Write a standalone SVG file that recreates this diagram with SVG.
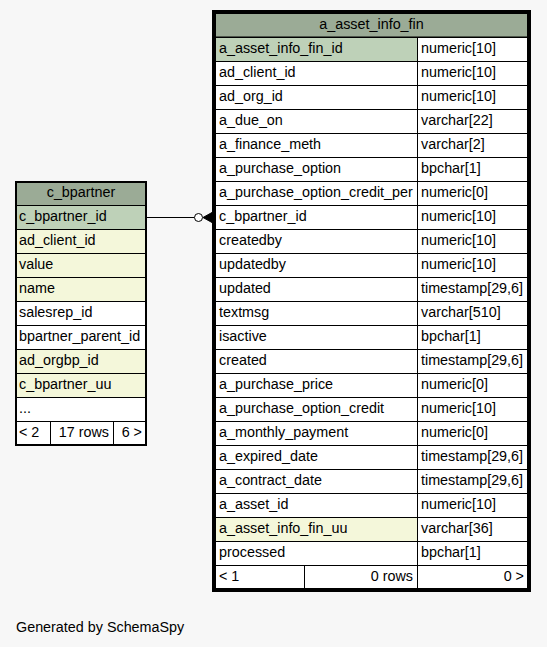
<svg xmlns="http://www.w3.org/2000/svg" width="547" height="647" viewBox="0 0 547 647">
<style>
text{font-family:"Liberation Sans",Arial,sans-serif;font-size:14.35px;fill:#000}
.c{text-anchor:middle}
.r{text-anchor:end}
.hd{fill:#9bab96;stroke:#000;stroke-width:1}
.pk{fill:#bed1b8;stroke:#000;stroke-width:1}
.ix{fill:#f4f7da;stroke:#000;stroke-width:1}
.w{fill:#fff;stroke:#000;stroke-width:1}
.ft{fill:#fff;stroke:#000;stroke-width:1}
.edge{fill:none;stroke:#000;stroke-width:1}
</style>
<rect x="0" y="0" width="547" height="647" fill="#f7f7f7"/>
<g id="c_bpartner">
<rect x="15.5" y="181.5" width="131" height="264" fill="#fff" stroke="#000"/>
<rect class="hd" x="16.5" y="182.5" width="129" height="23"/>
<text class="c" x="81" y="197">c_bpartner</text>
<rect class="pk" x="16.5" y="205.5" width="129" height="24"/><text x="19" y="221">c_bpartner_id</text>
<rect class="ix" x="16.5" y="229.5" width="129" height="24"/><text x="19" y="245">ad_client_id</text>
<rect class="ix" x="16.5" y="253.5" width="129" height="24"/><text x="19" y="269">value</text>
<rect class="ix" x="16.5" y="277.5" width="129" height="24"/><text x="19" y="293">name</text>
<rect class="w" x="16.5" y="301.5" width="129" height="24"/><text x="19" y="317">salesrep_id</text>
<rect class="w" x="16.5" y="325.5" width="129" height="24"/><text x="19" y="341">bpartner_parent_id</text>
<rect class="ix" x="16.5" y="349.5" width="129" height="24"/><text x="19" y="365">ad_orgbp_id</text>
<rect class="ix" x="16.5" y="373.5" width="129" height="24"/><text x="19" y="389">c_bpartner_uu</text>
<rect class="w" x="16.5" y="397.5" width="129" height="24"/><text x="19" y="413">...</text>
<rect class="ft" x="16.5" y="421.5" width="34" height="23"/><text x="19" y="437">&lt; 2</text>
<rect class="ft" x="50.5" y="421.5" width="63" height="23"/><text class="r" x="109" y="437">17 rows</text>
<rect class="ft" x="113.5" y="421.5" width="32" height="23"/><text class="r" x="142" y="437">6 &gt;</text>
</g>
<g id="a_asset_info_fin">
<rect x="213.5" y="11.5" width="316" height="579" fill="#fff" stroke="#000" stroke-width="3"/>
<rect class="hd" x="215.5" y="13.5" width="312" height="23.5"/>
<text class="c" x="371.5" y="29">a_asset_info_fin</text>
<rect class="pk" x="215.5" y="37.5" width="202" height="24"/><rect class="w" x="417.5" y="37.5" width="110" height="24"/>
<text x="219" y="53">a_asset_info_fin_id</text><text x="421" y="53">numeric[10]</text>
<rect class="w" x="215.5" y="61.5" width="202" height="24"/><rect class="w" x="417.5" y="61.5" width="110" height="24"/>
<text x="219" y="77">ad_client_id</text><text x="421" y="77">numeric[10]</text>
<rect class="w" x="215.5" y="85.5" width="202" height="24"/><rect class="w" x="417.5" y="85.5" width="110" height="24"/>
<text x="219" y="101">ad_org_id</text><text x="421" y="101">numeric[10]</text>
<rect class="w" x="215.5" y="109.5" width="202" height="24"/><rect class="w" x="417.5" y="109.5" width="110" height="24"/>
<text x="219" y="125">a_due_on</text><text x="421" y="125">varchar[22]</text>
<rect class="w" x="215.5" y="133.5" width="202" height="24"/><rect class="w" x="417.5" y="133.5" width="110" height="24"/>
<text x="219" y="149">a_finance_meth</text><text x="421" y="149">varchar[2]</text>
<rect class="w" x="215.5" y="157.5" width="202" height="24"/><rect class="w" x="417.5" y="157.5" width="110" height="24"/>
<text x="219" y="173">a_purchase_option</text><text x="421" y="173">bpchar[1]</text>
<rect class="w" x="215.5" y="181.5" width="202" height="24"/><rect class="w" x="417.5" y="181.5" width="110" height="24"/>
<text x="219" y="197">a_purchase_option_credit_per</text><text x="421" y="197">numeric[0]</text>
<rect class="w" x="215.5" y="205.5" width="202" height="24"/><rect class="w" x="417.5" y="205.5" width="110" height="24"/>
<text x="219" y="221">c_bpartner_id</text><text x="421" y="221">numeric[10]</text>
<rect class="w" x="215.5" y="229.5" width="202" height="24"/><rect class="w" x="417.5" y="229.5" width="110" height="24"/>
<text x="219" y="245">createdby</text><text x="421" y="245">numeric[10]</text>
<rect class="w" x="215.5" y="253.5" width="202" height="24"/><rect class="w" x="417.5" y="253.5" width="110" height="24"/>
<text x="219" y="269">updatedby</text><text x="421" y="269">numeric[10]</text>
<rect class="w" x="215.5" y="277.5" width="202" height="24"/><rect class="w" x="417.5" y="277.5" width="110" height="24"/>
<text x="219" y="293">updated</text><text x="421" y="293">timestamp[29,6]</text>
<rect class="w" x="215.5" y="301.5" width="202" height="24"/><rect class="w" x="417.5" y="301.5" width="110" height="24"/>
<text x="219" y="317">textmsg</text><text x="421" y="317">varchar[510]</text>
<rect class="w" x="215.5" y="325.5" width="202" height="24"/><rect class="w" x="417.5" y="325.5" width="110" height="24"/>
<text x="219" y="341">isactive</text><text x="421" y="341">bpchar[1]</text>
<rect class="w" x="215.5" y="349.5" width="202" height="24"/><rect class="w" x="417.5" y="349.5" width="110" height="24"/>
<text x="219" y="365">created</text><text x="421" y="365">timestamp[29,6]</text>
<rect class="w" x="215.5" y="373.5" width="202" height="24"/><rect class="w" x="417.5" y="373.5" width="110" height="24"/>
<text x="219" y="389">a_purchase_price</text><text x="421" y="389">numeric[0]</text>
<rect class="w" x="215.5" y="397.5" width="202" height="24"/><rect class="w" x="417.5" y="397.5" width="110" height="24"/>
<text x="219" y="413">a_purchase_option_credit</text><text x="421" y="413">numeric[10]</text>
<rect class="w" x="215.5" y="421.5" width="202" height="24"/><rect class="w" x="417.5" y="421.5" width="110" height="24"/>
<text x="219" y="437">a_monthly_payment</text><text x="421" y="437">numeric[0]</text>
<rect class="w" x="215.5" y="445.5" width="202" height="24"/><rect class="w" x="417.5" y="445.5" width="110" height="24"/>
<text x="219" y="461">a_expired_date</text><text x="421" y="461">timestamp[29,6]</text>
<rect class="w" x="215.5" y="469.5" width="202" height="24"/><rect class="w" x="417.5" y="469.5" width="110" height="24"/>
<text x="219" y="485">a_contract_date</text><text x="421" y="485">timestamp[29,6]</text>
<rect class="w" x="215.5" y="493.5" width="202" height="24"/><rect class="w" x="417.5" y="493.5" width="110" height="24"/>
<text x="219" y="509">a_asset_id</text><text x="421" y="509">numeric[10]</text>
<rect class="ix" x="215.5" y="517.5" width="202" height="24"/><rect class="w" x="417.5" y="517.5" width="110" height="24"/>
<text x="219" y="533">a_asset_info_fin_uu</text><text x="421" y="533">varchar[36]</text>
<rect class="w" x="215.5" y="541.5" width="202" height="24"/><rect class="w" x="417.5" y="541.5" width="110" height="24"/>
<text x="219" y="557">processed</text><text x="421" y="557">bpchar[1]</text>
<rect class="ft" x="215.5" y="565.5" width="89" height="23"/><text x="219" y="581">&lt; 1</text>
<rect class="ft" x="304.5" y="565.5" width="113" height="23"/><text class="r" x="413" y="581">0 rows</text>
<rect class="ft" x="417.5" y="565.5" width="110" height="23"/><text class="r" x="524" y="581">0 &gt;</text>
</g>
<g id="connectors">
<path class="edge" d="M147,217.5 H194.5"/>
<circle cx="198.5" cy="217.5" r="4" fill="#fff" stroke="#000"/>
<polygon points="203,217.5 212,212.5 212,222.5" fill="#000" stroke="#000"/>
</g>
<text x="16" y="632">Generated by SchemaSpy</text>
</svg>
